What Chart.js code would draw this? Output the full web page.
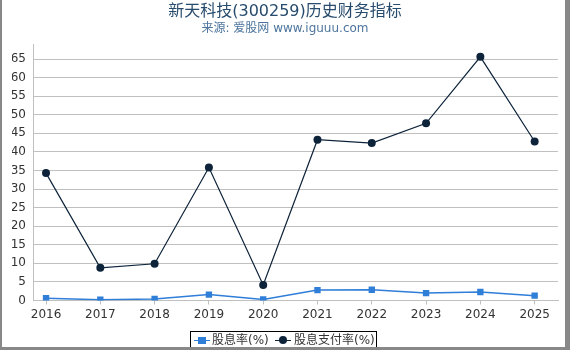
<!DOCTYPE html>
<html>
<head>
<meta charset="utf-8">
<script src="https://cdn.jsdelivr.net/npm/chart.js@4/dist/chart.umd.min.js"></script>
<style>
  body { margin: 0; background: #fff; }
  #wrap { position: relative; width: 570px; height: 350px; font-family: "DejaVu Sans", "Noto Sans CJK SC", sans-serif; }
  #frame { position: absolute; left: 0; top: 0; width: 570px; height: 350px; box-sizing: border-box;
           border-left: 2px solid #888; border-right: 5px solid #888; border-bottom: 3px solid #888; pointer-events: none; }
  #legend { position: absolute; left: 190px; top: 331px; width: 187px; height: 20px; box-sizing: border-box;
            border: 1px solid #000; font-size: 12px; color: #333; white-space: nowrap; }
  .item { position: absolute; top: 1px; line-height: 14px; }
  .mk { position: absolute; top: 8px; height: 1px; width: 16px; }
</style>
</head>
<body>
<div id="wrap">
  <canvas id="c" width="570" height="350"></canvas>
  <div id="legend">
    <span class="mk" style="left:3px;background:#2f7ed8"></span>
    <span style="position:absolute;left:7px;top:5px;width:8px;height:7px;background:#2f7ed8"></span>
    <span class="item" style="left:21px">股息率(%)</span>
    <span class="mk" style="left:84px;background:#0d233a"></span>
    <span style="position:absolute;left:88px;top:4px;width:8px;height:8px;border-radius:50%;background:#0d233a"></span>
    <span class="item" style="left:103px">股息支付率(%)</span>
  </div>
  <div id="frame"></div>
</div>
<script>
// values
const years = [2016, 2017, 2018, 2019, 2020, 2021, 2022, 2023, 2024, 2025];
const dividendYield = [0.6, 0.2, 0.4, 1.6, 0.3, 2.8, 2.9, 2.0, 2.3, 1.3];
const payoutRatio = [34.3, 8.8, 9.9, 35.8, 4.2, 43.3, 42.4, 47.7, 65.6, 42.8];
const yTicks = [0, 5, 10, 15, 20, 25, 30, 35, 40, 45, 50, 55, 60, 65];

const font = { family: '"DejaVu Sans", "Noto Sans CJK SC", sans-serif', size: 12 };

new Chart(document.getElementById('c'), {
  type: 'line',
  data: {
    datasets: [
      {
        label: '股息率(%)',
        data: years.map((y, i) => ({ x: y, y: dividendYield[i] })),
        borderColor: '#2f7ed8',
        backgroundColor: '#2f7ed8',
        borderWidth: 1.5,
        pointStyle: 'rect',
        pointRadius: 4.5,
        pointBorderWidth: 0,
      },
      {
        label: '股息支付率(%)',
        data: years.map((y, i) => ({ x: y, y: payoutRatio[i] })),
        borderColor: '#0d233a',
        backgroundColor: '#0d233a',
        borderWidth: 1.2,
        pointStyle: 'circle',
        pointRadius: 4,
        pointBorderWidth: 0,
      },
    ],
  },
  options: {
    responsive: false,
    animation: false,
    // equal side padding keeps the title centred on the page
    layout: { padding: { left: 12, right: 12, top: 0, bottom: 0 } },
    plugins: {
      legend: { display: false },
      tooltip: { enabled: false },
      title: {
        display: true,
        text: '新天科技(300259)历史财务指标',
        color: '#274b6d',
        font: { family: font.family, size: 16, weight: 'normal' },
        padding: { top: 2, bottom: 0 },
      },
      subtitle: {
        display: true,
        text: '来源: 爱股网 www.iguuu.com',
        color: '#4d759e',
        font: { family: font.family, size: 12 },
        padding: { top: 0, bottom: 9 },
      },
    },
    scales: {
      x: {
        type: 'linear',
        min: 2015.76,
        max: 2025.43,
        afterBuildTicks: (s) => { s.ticks = years.map((v) => ({ value: v })); },
        afterFit: (s) => { s.height = 49.5; },
        grid: { drawOnChartArea: false, drawTicks: true, tickLength: 4, color: '#c0c0c0' },
        border: { color: '#c0c0c0' },
        ticks: { color: '#333', font: font, padding: 3, maxRotation: 0, callback: (v) => String(v) },
      },
      y: {
        min: 0,
        max: 68.9,
        afterBuildTicks: (s) => { s.ticks = yTicks.map((v) => ({ value: v })); },
        afterFit: (s) => { s.width = 21; },
        grid: { color: '#c0c0c0', drawTicks: false },
        border: { color: '#c0c0c0' },
        ticks: { color: '#333', font: font, padding: 7 },
      },
    },
  },
});
</script>
</body>
</html>
